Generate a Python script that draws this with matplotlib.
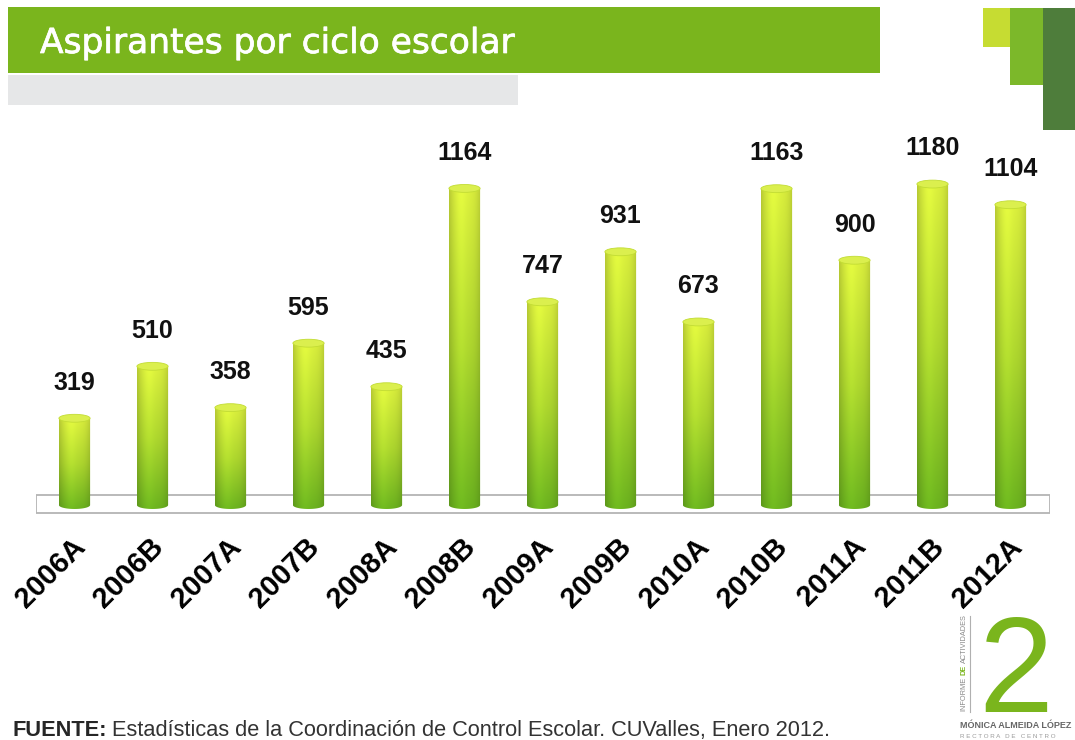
import numpy as np
import matplotlib
matplotlib.use("Agg")
import matplotlib.pyplot as plt
import matplotlib.patheffects as pe
from matplotlib.patches import Rectangle, Ellipse, PathPatch
from matplotlib.path import Path
from matplotlib.transforms import ScaledTranslation

# datos de la grafica
ciclos = ["2006A", "2006B", "2007A", "2007B", "2008A", "2008B", "2009A",
          "2009B", "2010A", "2010B", "2011A", "2011B", "2012A"]
aspirantes = [319, 510, 358, 595, 435, 1164, 747, 931, 673, 1163, 900, 1180, 1104]

titulo = "Aspirantes por ciclo escolar"
fuente_bold = "FUENTE:"
fuente_txt = "Estadísticas de la Coordinación de Control Escolar. CUValles, Enero 2012."

plt.rcParams['font.family'] = ['Liberation Sans', 'DejaVu Sans']

W, H = 1075, 740
fig = plt.figure(figsize=(W / 100, H / 100), dpi=100)
fig.patch.set_facecolor('white')

# fondo en pixeles para los adornos
bg = fig.add_axes([0, 0, 1, 1])
bg.set_xlim(0, W)
bg.set_ylim(H, 0)
bg.axis('off')

bg.add_patch(Rectangle((8, 7), 872, 66, color='#7ab51d', lw=0))
bg.add_patch(Rectangle((8, 75), 510, 30, color='#e6e7e8', lw=0))
bg.text(40, 53, titulo, color='white', fontsize=24.8, family='DejaVu Sans',
        va='baseline', ha='left',
        path_effects=[pe.withStroke(linewidth=0.5, foreground='white')])

# logo arriba a la derecha
bg.add_patch(Rectangle((983, 8), 27, 39, color='#c6dc32', lw=0))
bg.add_patch(Rectangle((1010, 8), 33, 77, color='#7cb82a', lw=0))
bg.add_patch(Rectangle((1043, 8), 32, 122, color='#4e7d3b', lw=0))

# logo abajo a la derecha
bg.text(1016, 712, "2", color='#7ab51d', fontsize=97, family='Liberation Sans',
        ha='center', va='baseline')
bg.plot([970, 970], [616, 712], color='#b0b0b0', lw=0.8)
v1 = bg.text(964, 711, "INFORME", rotation=90, fontsize=5.3, color='#8a8a8a',
             ha='center', va='bottom')
v2 = bg.annotate("DE", xy=(0.5, 1), xycoords=v1, xytext=(0, 1.5), textcoords='offset points',
                 rotation=90, fontsize=5.3, color='#7ab51d', fontweight='bold',
                 ha='center', va='bottom')
bg.annotate("ACTIVIDADES", xy=(0.5, 1), xycoords=v2, xytext=(0, 1.5), textcoords='offset points',
            rotation=90, fontsize=5.3, color='#8a8a8a', ha='center', va='bottom')
bg.text(960, 726, "MÓNICA ALMEIDA LÓPEZ", fontsize=6.5, color='#666666',
        fontweight='bold', va='center', ha='left')
bg.text(960, 736, "R E C T O R A   D E   C E N T R O", fontsize=4.5, color='#9a9a9a',
        va='center', ha='left')

# fuente
t1 = bg.text(12, 736, fuente_bold, fontsize=15.7, fontweight='bold', color='#262626',
             va='baseline', ha='left')
bg.annotate(fuente_txt, xy=(1, 0), xycoords=t1, xytext=(4, 0), textcoords='offset points',
            fontsize=15.7, color='#333333', va='bottom', ha='left')

# ejes de la grafica
px_left, px_right = 35.5, 1049.5
px_top, px_bot = 140, 520
ax = fig.add_axes([px_left / W, (H - px_bot) / H, (px_right - px_left) / W, (px_bot - px_top) / H])
ax.patch.set_alpha(0)

ymin, ymax = -55, 1342
w = 0.4
cap_h = 29

# degradado del cilindro
rows, cols = 256, 64
t = np.linspace(0, 1, rows)[:, None]
u = np.linspace(-1, 1, cols)[None, :]
c_bot = np.array([0.42, 0.70, 0.12])
c_mid = np.array([0.68, 0.84, 0.18])
c_top = np.array([0.86, 0.94, 0.24])
col = np.where(t[..., None] < 0.5,
               c_bot + (c_mid - c_bot) * (t[..., None] / 0.5),
               c_mid + (c_top - c_mid) * ((t[..., None] - 0.5) / 0.5))
col = np.repeat(col, cols, axis=1)
shade = 1 - 0.16 * np.abs(u) ** 3 + 0.05 * np.exp(-((u + 0.25) / 0.35) ** 2)
grad = np.clip(col * shade[..., None], 0, 1)

# piso
ax.add_patch(Rectangle((-0.5, -29), 13, 66, facecolor='white', edgecolor='#b4b4b4',
                       lw=1.3, zorder=1))

for i, v in enumerate(aspirantes):
    th = np.linspace(np.pi, 2 * np.pi, 40)
    verts = list(zip(i + w / 2 * np.cos(th), cap_h / 2 * np.sin(th)))
    verts += [(i + w / 2, v), (i - w / 2, v), verts[0]]
    codes = [Path.MOVETO] + [Path.LINETO] * (len(verts) - 2) + [Path.CLOSEPOLY]
    clip = PathPatch(Path(verts, codes), facecolor='none', edgecolor='none',
                     transform=ax.transData)
    ax.add_patch(clip)
    im = ax.imshow(grad, extent=(i - w / 2, i + w / 2, -cap_h / 2, v), origin='lower',
                   aspect='auto', interpolation='bilinear', zorder=2)
    im.set_clip_path(clip)
    ax.add_patch(Ellipse((i, v), w, cap_h, facecolor='#dbef4e', edgecolor='#c2dc34',
                         lw=0.6, zorder=3))
    ax.annotate(str(v), (i, v), xytext=(0, 17), textcoords='offset points',
                ha='center', va='bottom', fontsize=18, fontweight='bold', color='#111111')

ax.set_xlim(-0.5, 12.5)
ax.set_ylim(ymin, ymax)
for s in ax.spines.values():
    s.set_visible(False)
ax.set_yticks([])
ax.set_xticks(range(len(ciclos)))
ax.set_xticklabels(ciclos, rotation=45, ha='right', va='top', rotation_mode='anchor',
                   fontsize=21, fontweight='bold', color='black')
ax.tick_params(axis='x', length=0, pad=9)
off = ScaledTranslation(-3 / 100, 0, fig.dpi_scale_trans)
for lab in ax.get_xticklabels():
    lab.set_transform(lab.get_transform() + off)

fig.savefig("out.png", dpi=100)
